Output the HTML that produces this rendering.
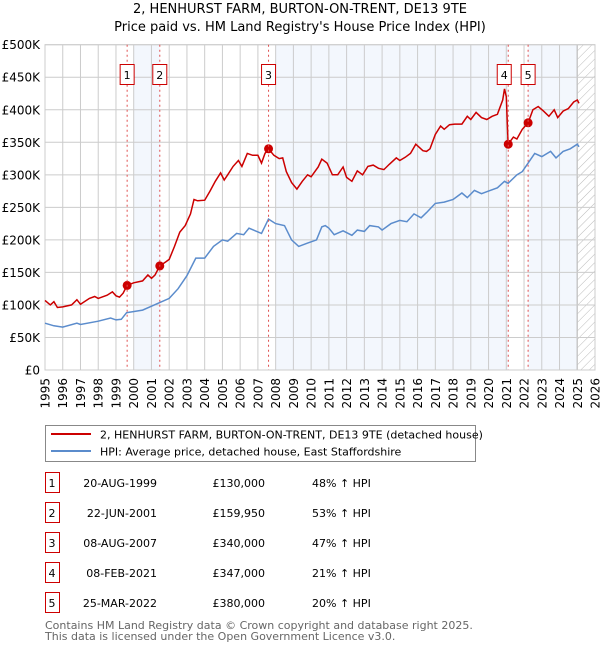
<!DOCTYPE html>
<html><head><meta charset="utf-8"><style>
body{margin:0;background:#fff;}
svg text{font-family:"DejaVu Sans","Liberation Sans",sans-serif;}
</style></head><body>
<svg id="chart" width="600" height="650" xmlns="http://www.w3.org/2000/svg">
<defs>
<pattern id="hatch" patternUnits="userSpaceOnUse" width="6" height="6" patternTransform="rotate(45)"><line x1="0" y1="0" x2="0" y2="6" stroke="#bbb" stroke-width="1"/></pattern>
</defs>
<text x="300" y="13" text-anchor="middle" font-size="13" fill="#000">2, HENHURST FARM, BURTON-ON-TRENT, DE13 9TE</text>
<text x="300" y="31" text-anchor="middle" font-size="13" fill="#000">Price paid vs. HM Land Registry's House Price Index (HPI)</text>
<g id="shade"></g><g id="grid"></g><g id="axes"></g><g id="series"></g><g id="markers"></g>
<g>
<rect x="45.5" y="425.5" width="430" height="36" fill="#fff" stroke="#888"/>
<line x1="51" y1="434" x2="91" y2="434" stroke="#cc0000" stroke-width="2"/>
<text x="100" y="438.5" font-size="11">2, HENHURST FARM, BURTON-ON-TRENT, DE13 9TE (detached house)</text>
<line x1="51" y1="451" x2="91" y2="451" stroke="#5b8ccc" stroke-width="2"/>
<text x="100" y="455.5" font-size="11">HPI: Average price, detached house, East Staffordshire</text>
</g>
<g id="table" font-size="11"></g>
<text x="45" y="629" font-size="11" fill="#666">Contains HM Land Registry data © Crown copyright and database right 2025.</text>
<text x="45" y="640" font-size="11" fill="#666">This data is licensed under the Open Government Licence v3.0.</text>
</svg>
<script>
const redYears=[1995.0,1995.3,1995.5,1995.7,1996.0,1996.5,1996.8,1997.0,1997.5,1997.8,1998.0,1998.5,1998.8,1999.0,1999.2,1999.4,1999.63,2000.0,2000.5,2000.8,2001.0,2001.2,2001.47,2001.8,2002.0,2002.3,2002.6,2002.9,2003.2,2003.4,2003.6,2004.0,2004.3,2004.6,2004.9,2005.1,2005.3,2005.6,2005.9,2006.1,2006.4,2006.7,2007.0,2007.2,2007.4,2007.6,2007.9,2008.2,2008.4,2008.6,2008.9,2009.2,2009.5,2009.8,2010.0,2010.4,2010.6,2010.9,2011.2,2011.5,2011.8,2012.0,2012.3,2012.6,2012.9,2013.2,2013.5,2013.8,2014.1,2014.4,2014.8,2015.0,2015.3,2015.6,2015.9,2016.3,2016.5,2016.7,2017.0,2017.3,2017.5,2017.8,2018.1,2018.5,2018.8,2019.0,2019.3,2019.6,2019.9,2020.2,2020.5,2020.8,2020.9,2021.0,2021.1,2021.4,2021.6,2021.9,2022.23,2022.5,2022.8,2023.1,2023.4,2023.7,2023.9,2024.2,2024.5,2024.8,2025.0,2025.1];
const redValues=[107,100,105,96,97,100,108,101,110,113,110,115,120,114,112,118,130,134,137,146,141,146,160,166,170,190,212,222,240,262,260,261,275,290,303,292,300,313,322,313,333,330,330,318,333,340,330,325,326,305,288,278,290,300,297,312,324,318,300,300,312,296,290,306,300,313,315,310,308,316,326,322,327,333,347,337,336,340,362,375,370,377,378,378,390,385,396,388,385,390,393,415,432,420,347,358,355,370,380,400,405,398,390,400,388,398,402,412,415,410];
const hpiYears=[1995.0,1995.5,1996.0,1996.8,1997.0,1998.0,1998.7,1999.0,1999.3,1999.6,2000.5,2001.0,2001.5,2002.0,2002.5,2003.0,2003.5,2004.0,2004.5,2005.0,2005.3,2005.8,2006.2,2006.5,2007.2,2007.6,2008.0,2008.5,2008.9,2009.3,2009.8,2010.3,2010.6,2010.8,2011.0,2011.3,2011.8,2012.3,2012.6,2013.0,2013.3,2013.8,2014.0,2014.5,2015.0,2015.4,2015.8,2016.2,2016.5,2017.0,2017.5,2018.0,2018.5,2018.8,2019.2,2019.6,2020.0,2020.5,2020.9,2021.1,2021.6,2021.9,2022.2,2022.6,2023.0,2023.5,2023.8,2024.2,2024.6,2025.0,2025.1];
const hpiValues=[72,68,66,72,70,75,80,77,78,88,92,98,104,110,125,145,172,172,190,200,198,210,208,218,210,232,225,222,200,190,195,200,220,222,218,208,214,207,215,213,222,220,215,225,230,228,240,234,242,256,258,262,272,265,276,271,275,280,290,287,300,305,317,333,328,336,326,336,340,347,343];
const saleLabels=["1","2","3","4","5"];
const saleYears=[1999.63,2001.47,2007.6,2021.11,2022.23];
const saleValues=[130,159.95,340,347,380];
const saleDates=["20-AUG-1999","22-JUN-2001","08-AUG-2007","08-FEB-2021","25-MAR-2022"];
const salePrices=["£130,000","£159,950","£340,000","£347,000","£380,000"];
const salePcts=["48% ↑ HPI","53% ↑ HPI","47% ↑ HPI","21% ↑ HPI","20% ↑ HPI"];
const yTicks=[0,50,100,150,200,250,300,350,400,450,500];
const yTickLabels=["£0","£50K","£100K","£150K","£200K","£250K","£300K","£350K","£400K","£450K","£500K"];
const xTicks=[1995,1996,1997,1998,1999,2000,2001,2002,2003,2004,2005,2006,2007,2008,2009,2010,2011,2012,2013,2014,2015,2016,2017,2018,2019,2020,2021,2022,2023,2024,2025,2026];

const L=45,R=595,T=44.7,B=370;
const xs=y=>L+(y-1995)/(2026-1995)*(R-L);
const ys=v=>B-v/500*(B-T);
const NS="http://www.w3.org/2000/svg";
function mk(parent,tag,attrs){const e=document.createElementNS(NS,tag);for(const k in attrs)e.setAttribute(k,attrs[k]);document.getElementById(parent).appendChild(e);return e;}

// shading
const shadeRanges=[[2000.0,saleYears[1]],[2008.0,saleYears[3]],[saleYears[4],2025.0]];
shadeRanges.forEach(r=>{const e=mk('shade','rect',{x:xs(r[0]),y:T,width:xs(r[1])-xs(r[0]),height:B-T,fill:'#eef3fc',opacity:0.7});

});
let h=mk('shade','rect',{x:xs(2025.0),y:T,width:R-xs(2025.0),height:B-T,fill:'url(#hatch)'});


mk('shade','line',{x1:xs(2025.0),y1:T,x2:xs(2025.0),y2:B,stroke:'#888','stroke-width':1});

// grid
yTicks.forEach((v,i)=>{const g=mk('grid','line',{x1:L,x2:R,y1:ys(v),y2:ys(v),stroke:'#ccc','stroke-width':1});


const t=mk('axes','text',{x:40,y:ys(v)+4.5,'text-anchor':'end','font-size':12});t.textContent=yTickLabels[i];

});
xTicks.forEach(yr=>{const g=mk('grid','line',{x1:xs(yr),x2:xs(yr),y1:T,y2:B,stroke:'#ccc','stroke-width':1});


const t=mk('axes','text',{x:0,y:0,'text-anchor':'end','font-size':12,transform:`translate(${xs(yr)+4.5},378) rotate(-90)`});t.textContent=yr;

});
mk('grid','rect',{x:L,y:T,width:R-L,height:B-T,fill:'none',stroke:'#ccc'});

// sale vlines & labels
saleYears.forEach((yr,i)=>{const l=mk('markers','line',{x1:xs(yr),x2:xs(yr),y1:T,y2:B,stroke:'#e05050','stroke-width':1,'stroke-dasharray':'2,3'});


const off=(i==3)?-4:0;
const b=mk('markers','rect',{x:xs(yr)-7+off,y:64.5,width:14,height:20,fill:'#fff',stroke:'#cc0000'});


const t=mk('markers','text',{x:xs(yr)+off,y:79,'text-anchor':'middle','font-size':11});t.textContent=saleLabels[i];

});

// series
const line=(xa,va)=>xa.map((x,i)=>(i?'L':'M')+xs(x).toFixed(1)+','+ys(va[i]).toFixed(1)).join('');
const hp=mk('series','path',{d:line(hpiYears,hpiValues),fill:'none',stroke:'#5b8ccc','stroke-width':1.5});


const rp=mk('series','path',{d:line(redYears,redValues),fill:'none',stroke:'#cc0000','stroke-width':1.5});


saleYears.forEach((yr,i)=>{const c=mk('series','circle',{cx:xs(yr),cy:ys(saleValues[i]),r:4.5,fill:'#cc0000'});

});

// table
saleLabels.forEach((lab,i)=>{const cy=483+i*30;
const b=mk('table','rect',{x:45.5,y:cy-10.5,width:14,height:20,fill:'#fff',stroke:'#cc0000'});


const cols=[[52,lab,'middle'],[157,saleDates[i],'end'],[265,salePrices[i],'end'],[312,salePcts[i],'start']];
cols.forEach(c=>{const t=mk('table','text',{x:c[0],y:cy+4,'text-anchor':c[2],'font-size':11});t.textContent=c[1];

});});
</script>
</body></html>
